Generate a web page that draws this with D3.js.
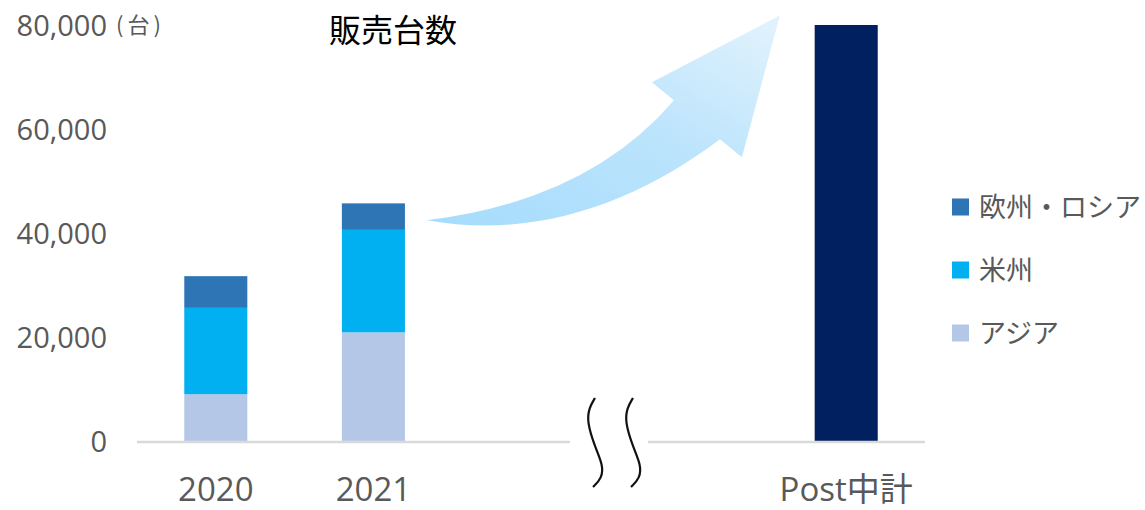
<!DOCTYPE html>
<html lang="ja">
<head>
<meta charset="utf-8">
<script src="https://cdn.jsdelivr.net/npm/d3@7/dist/d3.min.js"></script>
<style>
  html, body { margin: 0; padding: 0; background: #fff; }
  svg { display: block; }
  text { font-family: "Open Sans", "Noto Sans CJK JP", sans-serif; }
</style>
</head>
<body>
<svg id="chart" width="1145" height="510"></svg>
<script>
// Sales volume by region (units)
const categories = ["2020", "2021", "gapA", "gapB", "Post中計"];
const stackedYears = ["2020", "2021"];
const asia     = [9000, 20900];
const americas = [16600, 19700];
const europe   = [6100, 5100];
const postCategory = "Post中計";
const postTotal = 80000;

const seriesNames  = ["アジア", "米州", "欧州・ロシア"];
const seriesColors = ["#b4c7e7", "#00b0f0", "#2e75b6"];
const legendOrder  = ["欧州・ロシア", "米州", "アジア"];
const yTicks = [0, 20000, 40000, 60000, 80000];
const xLabels = ["2020", "2021", "Post中計"];
const title = "販売台数";
const unitLabel = "(台)";

const svg = d3.select("#chart");

const x = d3.scaleBand()
  .domain(categories)
  .range([137, 925])
  .paddingInner(0.6)
  .paddingOuter(0.3);

const y = d3.scaleLinear()
  .domain([0, 80000])
  .range([441, 25]);

const color = d3.scaleOrdinal().domain(seriesNames).range(seriesColors);

// Stacked rows for 2020/2021
const rows = stackedYears.map((yr, i) => ({
  year: yr, "アジア": asia[i], "米州": americas[i], "欧州・ロシア": europe[i]
}));
const stack = d3.stack().keys(seriesNames)(rows);

// y axis labels
const yAxis = d3.axisLeft(y)
  .tickValues(yTicks)
  .tickFormat(d3.format(","))
  .tickSize(0)
  .tickPadding(8);

const gy = svg.append("g")
  .attr("transform", "translate(115,0)")
  .call(yAxis);
gy.select(".domain").remove();
gy.selectAll("text")
  .attr("fill", "#595959")
  .style("font-family", "\"Open Sans\", sans-serif")
  .style("font-size", "29px")
  .attr("dy", "0.36em");

svg.append("text")
  .attr("x", 116)
  .attr("y", y(80000))
  .attr("dy", "0.36em")
  .attr("fill", "#595959")
  .style("font-family", "\"Noto Sans CJK JP\", sans-serif")
  .style("font-size", "22px")
  .style("letter-spacing", "4px")
  .text(unitLabel);

// Arrow annotation between the 2021 stack and the Post bar
const total2021 = asia[1] + americas[1] + europe[1];
const ax0 = x("2021") + x.bandwidth() + 22;
const ay0 = y(total2021) + 17;
const defs = svg.append("defs");
const grad = defs.append("linearGradient")
  .attr("id", "arrowGrad")
  .attr("x1", "0%").attr("y1", "100%")
  .attr("x2", "100%").attr("y2", "0%");
grad.append("stop").attr("offset", "0%").attr("stop-color", "#a5dcfc");
grad.append("stop").attr("offset", "55%").attr("stop-color", "#bce4fc");
grad.append("stop").attr("offset", "100%").attr("stop-color", "#e3f3fd");

const ap = d3.path();
ap.moveTo(0, 0);
ap.quadraticCurveTo(162, -20, 247, -120);
ap.lineTo(225, -138);
ap.lineTo(353, -205);
ap.lineTo(315, -63);
ap.lineTo(293, -81);
ap.bezierCurveTo(212, -20, 112, 20, 0, 0);
ap.closePath();
svg.append("path")
  .attr("transform", `translate(${ax0},${ay0})`)
  .attr("d", ap.toString())
  .attr("fill", "url(#arrowGrad)");

// Stacked bars
svg.append("g")
  .selectAll("g")
  .data(stack)
  .join("g")
  .attr("fill", d => color(d.key))
  .selectAll("rect")
  .data(d => d)
  .join("rect")
  .attr("x", d => x(d.data.year))
  .attr("width", x.bandwidth())
  .attr("y", d => y(d[1]))
  .attr("height", d => y(d[0]) - y(d[1]));

// Post total bar
svg.append("rect")
  .attr("x", x(postCategory))
  .attr("width", x.bandwidth())
  .attr("y", y(postTotal))
  .attr("height", y(0) - y(postTotal))
  .attr("fill", "#002060");

// Baseline with a break between the two segments
const baseY = y(0) + 1;
svg.append("line")
  .attr("x1", x.range()[0]).attr("x2", 570)
  .attr("y1", baseY).attr("y2", baseY)
  .attr("stroke", "#d9d9d9").attr("stroke-width", 2.5);
svg.append("line")
  .attr("x1", 648).attr("x2", x.range()[1])
  .attr("y1", baseY).attr("y2", baseY)
  .attr("stroke", "#d9d9d9").attr("stroke-width", 2.5);

// Wavy break marks
const wave = d3.line().curve(d3.curveBasis);
const wavePts = [[0, 0], [-6, 10], [-8, 24], [0, 49], [8, 67], [7, 80], [-2, 89]];
[595, 633].forEach(cx => {
  svg.append("path")
    .attr("d", wave(wavePts.map(([dx, dy]) => [cx + dx, 398 + dy])))
    .attr("fill", "none")
    .attr("stroke", "#111")
    .attr("stroke-width", 2.2);
});

// x labels
svg.append("g")
  .selectAll("text")
  .data(xLabels)
  .join("text")
  .attr("x", d => x(d) + x.bandwidth() / 2)
  .attr("y", 489)
  .attr("dy", "0.36em")
  .attr("text-anchor", "middle")
  .attr("fill", "#595959")
  .style("font-size", "33px")
  .text(d => d);

// Title
svg.append("text")
  .attr("x", 329)
  .attr("y", 30)
  .attr("dy", "0.36em")
  .attr("fill", "#000")
  .style("font-family", "\"Noto Sans CJK JP\", sans-serif")
  .style("font-size", "32px")
  .text(title);

// Legend
const legend = svg.append("g")
  .selectAll("g")
  .data(legendOrder)
  .join("g")
  .attr("transform", (d, i) => `translate(952,${207 + i * 63})`);
legend.append("rect")
  .attr("x", 0).attr("y", -8.5)
  .attr("width", 17).attr("height", 17)
  .attr("fill", d => color(d));
legend.append("text")
  .attr("x", 27)
  .attr("y", 0)
  .attr("dy", "0.36em")
  .attr("fill", "#595959")
  .style("font-family", "\"Noto Sans CJK JP\", sans-serif")
  .style("font-size", "27px")
  .text(d => d);
</script>
</body>
</html>
